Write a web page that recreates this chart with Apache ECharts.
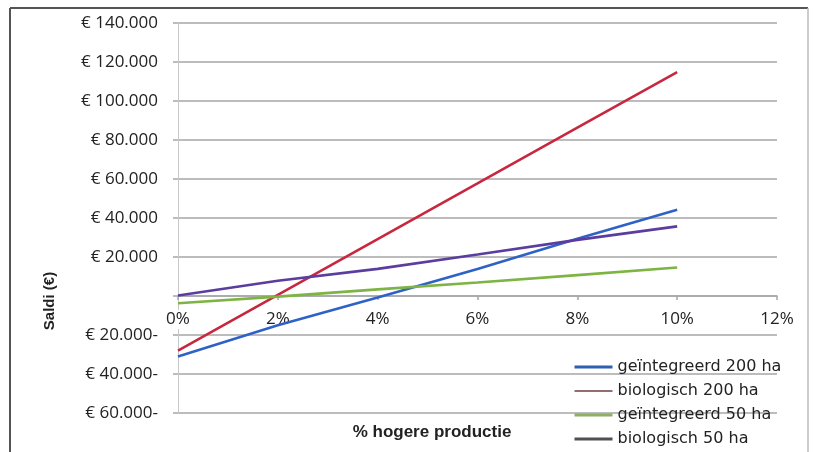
<!DOCTYPE html>
<html>
<head>
<meta charset="utf-8">
<script src="https://cdn.jsdelivr.net/npm/echarts@6/dist/echarts.min.js"></script>
<style>
html,body{margin:0;padding:0;background:#fff;}
#chart{width:815px;height:452px;}
</style>
</head>
<body>
<div id="chart"></div>
<script>
// Data
const xPct = [0, 2, 4, 6, 8, 10];
const seriesNames = ['geïntegreerd 200 ha', 'biologisch 200 ha', 'geïntegreerd 50 ha', 'biologisch 50 ha'];
const geint200 = [-31000, -15000, -800, 13800, 29300, 44200];
const bio200 = [-28000, 600, 29200, 57700, 86300, 114800];
const geint50 = [-3700, -300, 3400, 6900, 10700, 14600];
const bio50 = [300, 7800, 13900, 21300, 28800, 35700];
const xTicks = ['0%', '2%', '4%', '6%', '8%', '10%', '12%'];
const yTitle = 'Saldi (€)';
const xTitle = '% hogere productie';

const colors = ['#2f62c6', '#c8283f', '#7db443', '#5a3d9e'];
const allValues = [geint200, bio200, geint50, bio50];

function fmtThousands(v) {
  const s = String(Math.abs(v));
  return s.replace(/\B(?=(\d{3})+(?!\d))/g, '.');
}

const chart = echarts.init(document.getElementById('chart'), null, {renderer: 'canvas'});

const series = allValues.map((vals, i) => ({
  name: seriesNames[i],
  type: 'line',
  symbol: 'none',
  data: xPct.map((x, j) => [x, vals[j]]),
  lineStyle: {color: colors[i], width: 2.6},
  itemStyle: {color: colors[i]},
  z: 3 + i
}));

const legendStyles = [
  {lineStyle: {color: '#2f5fb0', width: 3}},
  {lineStyle: {color: '#6e3e45', width: 1.5}},
  {lineStyle: {color: '#8fae66', width: 3}},
  {lineStyle: {color: '#505050', width: 3}}
];

chart.setOption({
  animation: false,
  backgroundColor: '#ffffff',
  grid: {left: 178, right: 38, top: 23, bottom: 39, containLabel: false},
  xAxis: {
    type: 'value',
    min: 0, max: 12, interval: 2,
    axisLine: {onZero: true, show: true, lineStyle: {color: '#a6a6a6', width: 1.5}},
    axisTick: {show: true, length: 4, inside: false, lineStyle: {color: '#a6a6a6', width: 1.5}},
    splitLine: {show: false},
    axisLabel: {
      formatter: function (v) { return xTicks[Math.round(v / 2)]; },
      fontFamily: 'Open Sans', fontSize: 17, color: '#222',
      margin: -103, backgroundColor: '#ffffff', padding: [1, 2, 1, 2]
    }
  },
  yAxis: {
    type: 'value',
    min: -60000, max: 140000, interval: 20000,
    axisLine: {show: true, onZero: false, lineStyle: {color: '#c8c8c8', width: 1}},
    axisTick: {show: true, length: 5, lineStyle: {color: '#a6a6a6', width: 1.5}},
    splitLine: {show: true, lineStyle: {color: '#a6a6a6', width: 1.5}},
    axisLabel: {
      formatter: function (v) {
        if (v === 0) return '';
        if (v < 0) return '€ ' + fmtThousands(v) + '-';
        return '€ ' + fmtThousands(v);
      },
      fontFamily: 'Open Sans', fontSize: 17, color: '#222', margin: 20
    }
  },
  legend: {
    orient: 'vertical',
    left: 573, top: 359, height: 97, padding: 0,
    itemWidth: 38, itemHeight: 14, itemGap: 8,
    itemStyle: {opacity: 0},
    textStyle: {fontFamily: 'DejaVu Sans', fontSize: 16, color: '#222', lineHeight: 16},
    data: seriesNames.map((n, i) => Object.assign({name: n}, legendStyles[i])),
    selectedMode: false
  },
  graphic: [
    {type: 'text', x: 50, y: 301, rotation: Math.PI / 2,
     style: {text: yTitle, font: 'bold 15px "Liberation Sans"', fill: '#222', align: 'center', verticalAlign: 'middle'}},
    {type: 'text', x: 432, y: 432,
     style: {text: xTitle, font: 'bold 17px "Liberation Sans"', fill: '#222', align: 'center', verticalAlign: 'middle'}},
    {type: 'line', shape: {x1: 10, y1: 8, x2: 808, y2: 8}, style: {stroke: '#555', lineWidth: 2}},
    {type: 'line', shape: {x1: 10, y1: 8, x2: 10, y2: 452}, style: {stroke: '#555', lineWidth: 2}},
    {type: 'line', shape: {x1: 808, y1: 8, x2: 808, y2: 452}, style: {stroke: '#bbb', lineWidth: 1.5}}
  ],
  series: series
});
</script>
</body>
</html>
